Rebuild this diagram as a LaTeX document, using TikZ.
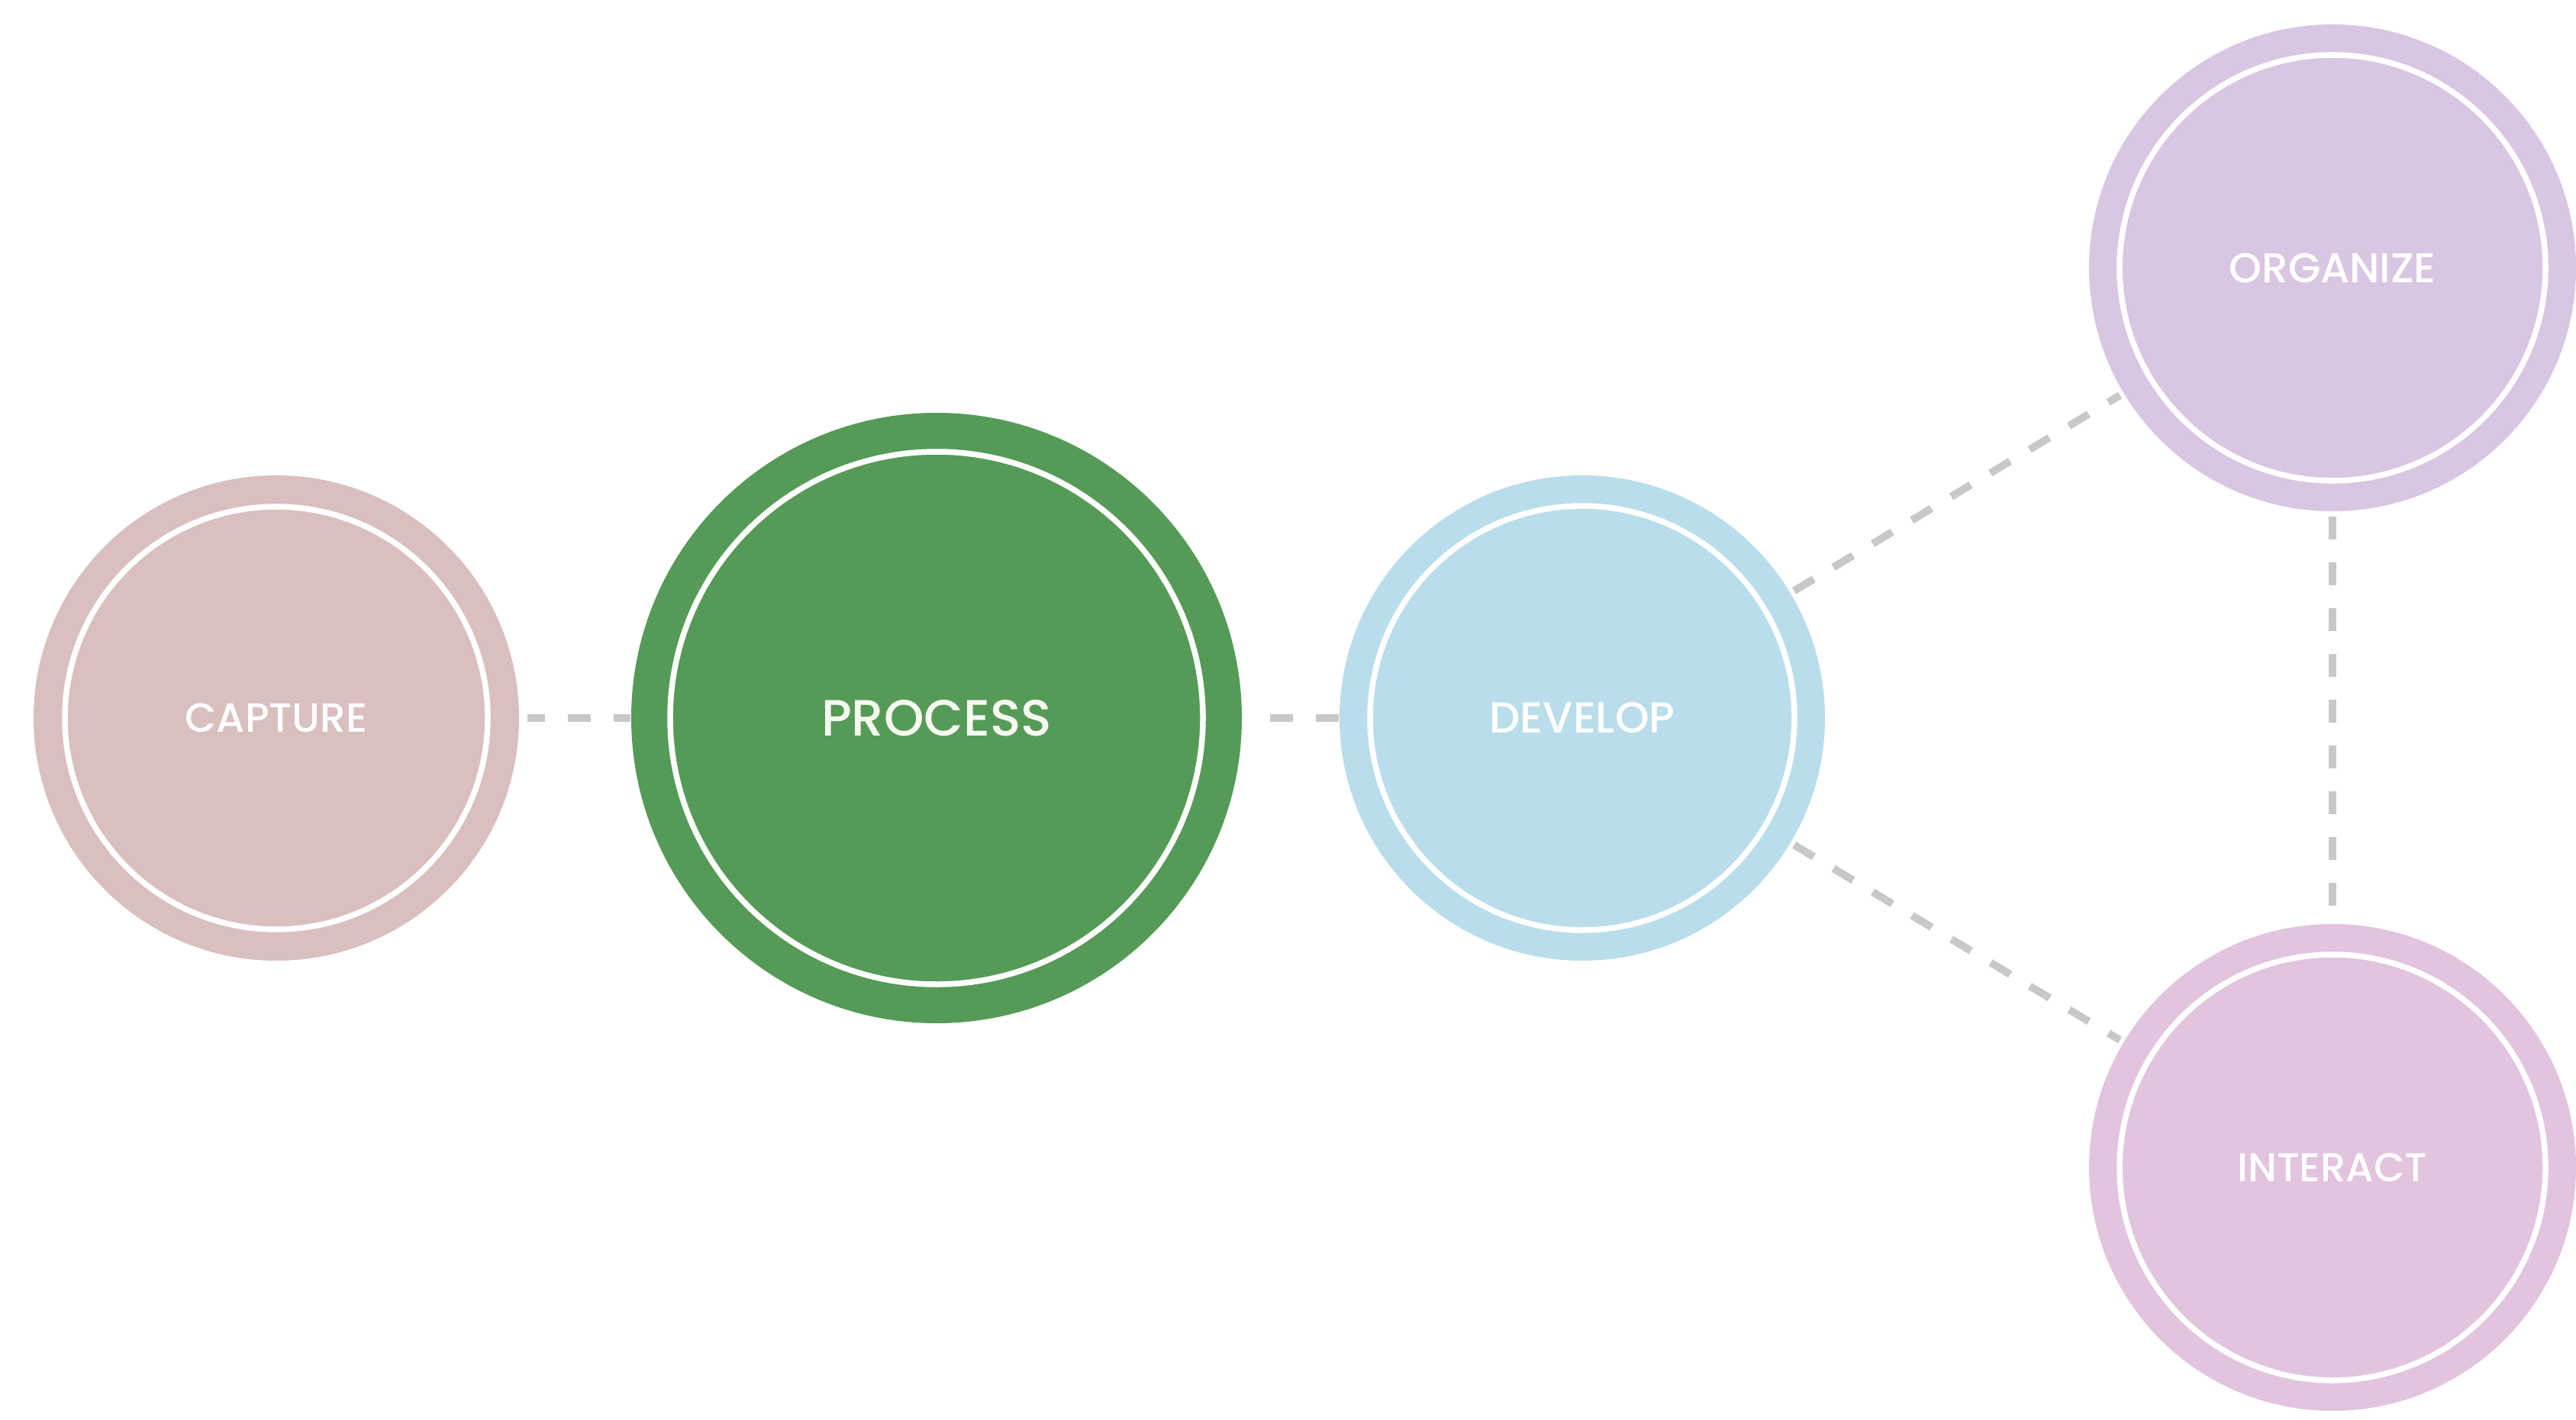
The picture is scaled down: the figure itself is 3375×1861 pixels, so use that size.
\documentclass[tikz,border=0pt]{standalone}
\usepackage{fontspec}
\setmainfont{Poppins}[UprightFont=*-Medium]
\usepackage{graphicx}
\definecolor{capc}{HTML}{DABFBF}
\definecolor{proc}{HTML}{559B57}
\definecolor{devc}{HTML}{B9DDEB}
\definecolor{orgc}{HTML}{D8C6E2}
\definecolor{intc}{HTML}{E2C4DE}
\definecolor{linkgray}{HTML}{C8C8C8}
\definecolor{cream}{HTML}{F6F9F0}
\begin{document}
\begin{tikzpicture}[x=0.1mm,y=-0.1mm,
  bubble/.style={circle, inner sep=0pt, draw=none, text=white},
  small/.style={bubble, minimum size=63.6mm},
  ring/.style={draw=white, line width=0.75mm},
  link/.style={draw=linkgray, line width=1mm, dash pattern=on 3mm off 3mm},
]
\useasboundingbox[fill=white] (0,0) rectangle (3375,1861);

% stage circles
\node[small, fill=capc] (capture) at (362,941) {\resizebox{23.9mm}{!}{CAPTURE}};
\node[bubble, fill=proc, minimum size=80mm, text=cream] (process) at (1227,941) {\resizebox{30.2mm}{!}{PROCESS}};
\node[small, fill=devc] (develop) at (2073,941) {\resizebox{24.3mm}{!}{DEVELOP}};
\node[small, fill=orgc, minimum size=63.8mm] (organize) at (3056,351) {\resizebox{27.1mm}{!}{ORGANIZE}};
\node[small, fill=intc, minimum size=63.8mm] (interact) at (3056,1530) {\resizebox{24.9mm}{!}{INTERACT}};

% inner white rings
\draw[ring] (capture.center) circle[radius=277];
\draw[ring] (process.center) circle[radius=349];
\draw[ring] (develop.center) circle[radius=278];
\draw[ring] (organize.center) circle[radius=279];
\draw[ring] (interact.center) circle[radius=279];

% dashed connectors
\draw[link, dash phase=0.7mm, shorten <=1mm] (capture) -- (process);
\draw[link, shorten <=3.6mm] (process) -- (develop);
\draw[link, shorten <=0.5mm, shorten >=0.5mm] (develop) -- (organize);
\draw[link, shorten <=0.5mm, shorten >=0.5mm] (develop) -- (interact);
\draw[link, shorten <=0.6mm] (organize) -- (interact);
\end{tikzpicture}
\end{document}
